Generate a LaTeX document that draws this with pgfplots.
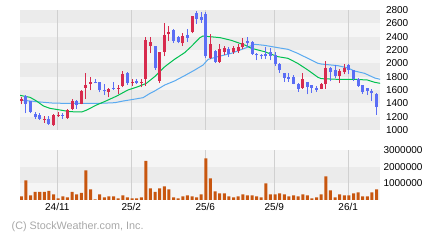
\documentclass[border=0pt]{standalone}
\usepackage{fontspec}
\setmainfont{Liberation Sans}
\usepackage{pgfplots}
\pgfplotsset{compat=1.18}
\usepackage{pgfplotstable}
\definecolor{candr}{HTML}{D72B4E}
\definecolor{candb}{HTML}{5B6EF5}
\definecolor{mag}{HTML}{00C050}
\definecolor{mab}{HTML}{5AAAF0}
\definecolor{volc}{HTML}{C8560F}
\definecolor{bandD}{HTML}{EBEBEB}
\definecolor{bandL}{HTML}{F5F5F5}
\definecolor{gridc}{HTML}{D0D0D0}
\definecolor{copyc}{HTML}{A8A8A8}

\pgfplotstableread{
i o h l c
0 1440 1500 1385 1460
5 1150 1210 1105 1165
7 1075 1240 1065 1230
8 1212 1265 1195 1227
10 1185 1315 1170 1300
11 1320 1465 1295 1430
13 1395 1605 1385 1590
14 1630 1855 1470 1680
15 1695 1795 1595 1727
19 1572 1632 1490 1622
21 1612 1675 1540 1632
22 1660 1885 1640 1840
24 1712 1760 1665 1727
26 1712 1760 1640 1727
27 1770 2395 1665 2350
28 2265 2395 2150 2320
30 1735 2172 1700 2170
31 2170 2600 2105 2425
32 2435 2560 2340 2472
35 2300 2460 2260 2410
37 2475 2712 2450 2710
41 2075 2435 2060 2290
43 2020 2285 2010 2220
44 2170 2260 2125 2225
46 2170 2265 2145 2225
47 2190 2285 2160 2250
48 2250 2375 2220 2310
61 1635 1850 1620 1765
65 1620 1710 1610 1690
66 1685 2030 1615 1930
69 1810 1915 1710 1885
70 1875 1985 1835 1935
}\redtab

\pgfplotstableread{
i o h l c
1 1515 1530 1250 1395
2 1430 1435 1250 1270
3 1240 1270 1165 1195
4 1225 1250 1155 1170
6 1170 1215 1075 1095
9 1228 1260 1170 1213
12 1440 1455 1320 1368
16 1722 1772 1700 1707
17 1715 1725 1565 1595
18 1595 1685 1525 1578
20 1635 1718 1598 1617
23 1855 1870 1680 1700
25 1740 1760 1685 1700
29 2260 2265 1900 1935
33 2505 2515 2310 2340
34 2400 2410 2300 2320
36 2430 2520 2320 2385
38 2760 2785 2590 2670
39 2700 2770 2610 2645
40 2740 2770 2085 2105
42 2185 2195 2005 2020
45 2220 2250 2100 2140
49 2335 2390 2250 2300
50 2325 2335 2125 2145
51 2135 2160 2045 2118
52 2120 2135 2060 2105
53 2140 2240 2065 2115
54 2175 2235 2045 2115
55 2120 2175 1960 1985
56 1985 2000 1860 1895
57 1850 1860 1725 1780
58 1800 1850 1720 1770
59 1800 1825 1685 1695
60 1690 1700 1575 1615
62 1720 1725 1535 1645
63 1670 1680 1560 1635
64 1635 1665 1570 1605
67 1935 1950 1730 1870
68 1900 1975 1775 1810
71 1975 1985 1845 1895
72 1895 1905 1735 1760
73 1760 1775 1650 1665
74 1670 1680 1540 1575
75 1625 1635 1525 1590
76 1580 1620 1435 1550
77 1540 1550 1230 1350
}\bluetab

\pgfplotstableread{
x y
-0.3 1520
1.9 1490
3.3 1435
4.8 1360
6.2 1325
8.4 1300
10.5 1275
13.1 1270
14.2 1300
16.3 1375
18.5 1440
20.7 1510
23.1 1600
25.3 1650
27.1 1700
28.9 1800
31.1 1950
33.2 2060
35.4 2160
36.8 2250
38.7 2385
39.4 2410
41.6 2395
43.1 2385
45.5 2345
48.4 2275
49.9 2225
52.7 2175
55.6 2100
57.8 2075
59.9 2000
62.1 1900
64.3 1790
65.0 1770
68.6 1760
72.2 1760
75.0 1750
76.6 1715
77.8 1700
}\magtab

\pgfplotstableread{
x y
-0.3 1450
1.9 1435
4.1 1420
6.6 1405
9.1 1400
13.4 1400
17.1 1400
20.3 1410
22.1 1435
24.3 1460
26.4 1485
27.9 1550
28.9 1585
31.1 1675
33.2 1735
35.4 1815
37.6 1900
39.4 1975
40.5 2060
42.6 2100
45.5 2150
48.4 2225
50.6 2285
52.7 2270
55.6 2235
57.8 2210
59.9 2150
62.1 2075
64.3 2000
65.0 1990
68.6 1965
70.8 1930
72.2 1885
74.4 1850
76.6 1780
77.8 1760
}\mabtab

\pgfplotstableread{
i v
0 220000
1 1180000
2 280000
3 480000
4 480000
5 480000
6 540000
7 340000
8 100000
9 220000
10 160000
11 480000
12 340000
13 420000
14 1780000
15 640000
16 40000
17 340000
18 160000
19 220000
20 220000
21 100000
22 280000
23 160000
24 100000
25 100000
26 160000
27 2340000
28 700000
29 480000
30 700000
31 820000
32 640000
33 160000
34 100000
35 220000
36 280000
37 220000
38 160000
39 340000
40 2500000
41 1300000
42 520000
43 400000
44 400000
45 220000
46 160000
47 220000
48 340000
49 280000
50 280000
51 220000
52 160000
53 1000000
54 340000
55 340000
56 400000
57 340000
58 220000
59 280000
60 220000
61 340000
62 280000
63 100000
64 160000
65 340000
66 1420000
67 580000
68 160000
69 340000
70 280000
71 280000
72 400000
73 460000
74 220000
75 220000
76 460000
77 640000
}\voltab

\pgfplotsset{
  common/.style={
    scale only axis, width=360bp, anchor=south west,
    xmin=-0.28, xmax=77.74,
    axis line style={draw=none},
    major tick length=0pt,
    xtick={7.80,23.83,39.87,54.82,70.85},
    yticklabel pos=right,
    tick label style={font=\fontsize{10bp}{12bp}\selectfont},
    /pgf/number format/assume math mode=true,
    /pgf/number format/1000 sep={},
  },
}

\begin{document}
\begin{tikzpicture}
\path[use as bounding box] (0,0) rectangle (440bp,240bp);

\begin{axis}[common,
  at={(20bp,110bp)}, height=120bp,
  ymin=1000, ymax=2800,
  ytick={1000,1200,...,2800},
  xticklabels={},
  yticklabel style={xshift=2.5bp},
]
\fill[bandD] (axis cs:-0.28,1000) rectangle (axis cs:77.74,1200);
\fill[bandL] (axis cs:-0.28,1200) rectangle (axis cs:77.74,1400);
\fill[bandD] (axis cs:-0.28,1400) rectangle (axis cs:77.74,1600);
\fill[bandL] (axis cs:-0.28,1600) rectangle (axis cs:77.74,1800);
\fill[bandD] (axis cs:-0.28,1800) rectangle (axis cs:77.74,2000);
\fill[bandL] (axis cs:-0.28,2000) rectangle (axis cs:77.74,2200);
\fill[bandD] (axis cs:-0.28,2200) rectangle (axis cs:77.74,2400);
\fill[bandL] (axis cs:-0.28,2400) rectangle (axis cs:77.74,2600);
\fill[bandD] (axis cs:-0.28,2600) rectangle (axis cs:77.74,2800);
\foreach \g in {7.80,23.83,39.87,54.82,70.85} {
  \edef\tmp{\noexpand\draw[gridc, line width=1bp] (axis cs:\g,1000) -- (axis cs:\g,2800);}\tmp
}

\addplot[mab, line width=1bp, mark=none] table[x=x,y=y]{\mabtab};
\addplot[mag, line width=1bp, mark=none] table[x=x,y=y]{\magtab};

% wicks
\addplot[draw=none, mark=none, forget plot,
  error bars/.cd, y dir=plus, y explicit, error mark=none,
  error bar style={draw=candr, line width=1bp}]
  table[x=i, y=l, y error expr=\thisrow{h}-\thisrow{l}]{\redtab};
\addplot[draw=none, mark=none, forget plot,
  error bars/.cd, y dir=plus, y explicit, error mark=none,
  error bar style={draw=candb, line width=1bp}]
  table[x=i, y=l, y error expr=\thisrow{h}-\thisrow{l}]{\bluetab};
% bodies
\addplot[draw=none, mark=none, forget plot,
  error bars/.cd, y dir=plus, y explicit, error mark=none,
  error bar style={draw=candr, line width=3bp, line cap=butt}]
  table[x=i, y=o, y error expr=\thisrow{c}-\thisrow{o}]{\redtab};
\addplot[draw=none, mark=none, forget plot,
  error bars/.cd, y dir=plus, y explicit, error mark=none,
  error bar style={draw=candb, line width=3bp, line cap=butt}]
  table[x=i, y=c, y error expr=\thisrow{o}-\thisrow{c}]{\bluetab};
\end{axis}

\begin{axis}[common,
  at={(20bp,40bp)}, height=50bp,
  ymin=0, ymax=3000000,
  ytick={1000000,2000000,3000000},
  yticklabels={1000000,2000000,3000000},
  scaled y ticks=false,
  xticklabels={24/11,25/2,25/6,25/9,26/1},
]
\fill[bandL] (axis cs:-0.28,0) rectangle (axis cs:77.74,1000000);
\fill[bandD] (axis cs:-0.28,1000000) rectangle (axis cs:77.74,2000000);
\fill[bandL] (axis cs:-0.28,2000000) rectangle (axis cs:77.74,3000000);
\foreach \g in {7.80,23.83,39.87,54.82,70.85} {
  \edef\tmp{\noexpand\draw[gridc, line width=1bp] (axis cs:\g,0) -- (axis cs:\g,3000000);}\tmp
}
\addplot[ybar, bar width=3bp, fill=volc, draw=none] table[x=i,y=v]{\voltab};
\end{axis}

\node[anchor=west, text=copyc, font=\fontsize{10.8bp}{13bp}\selectfont, inner sep=0pt] at (11.5bp,13bp) {(C) StockWeather.com, Inc.};
\end{tikzpicture}
\end{document}
